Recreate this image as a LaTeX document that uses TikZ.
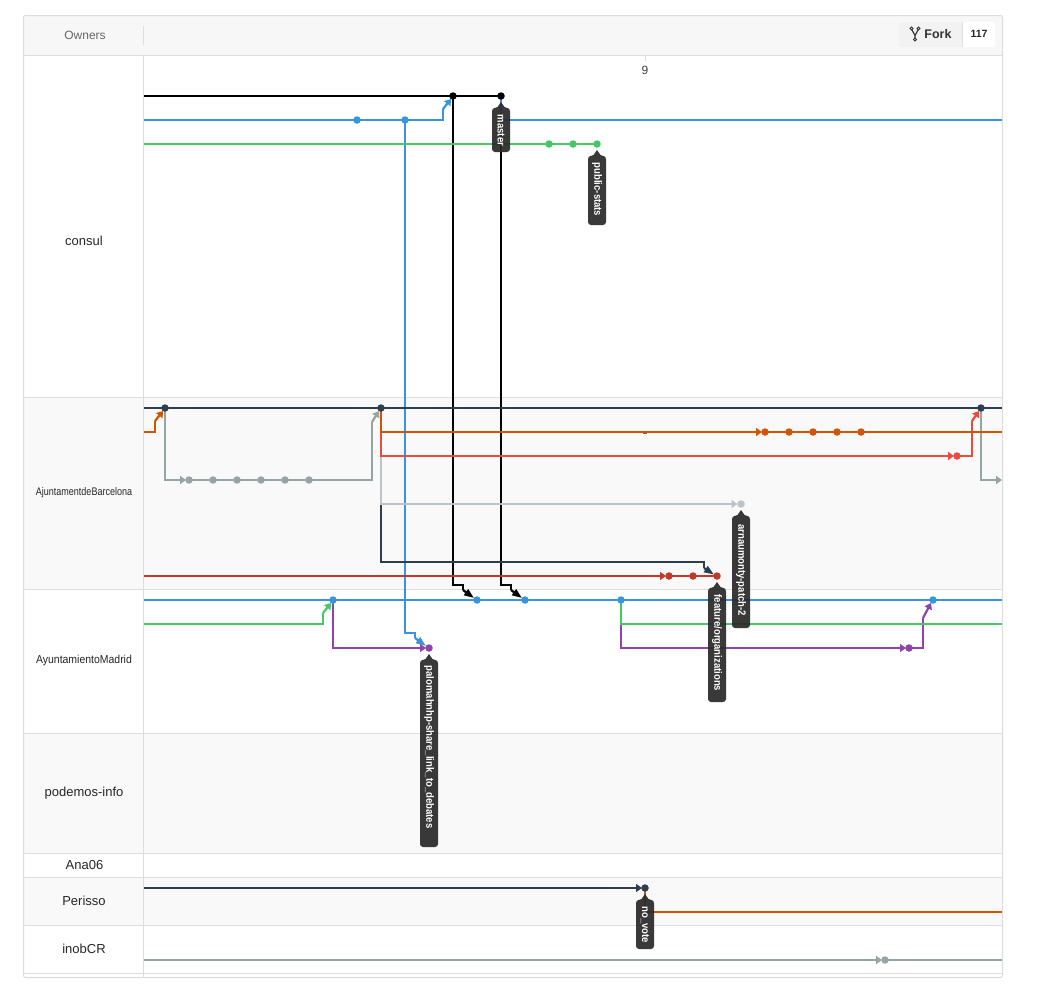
\documentclass[tikz,border=0pt]{standalone}
\usepackage{fontspec}
\usepackage{graphicx}
\setmainfont{Liberation Sans}
\usetikzlibrary{arrows.meta}
\definecolor{cblack}{HTML}{000000}
\definecolor{cblue}{HTML}{3A93DE}
\definecolor{cgreen}{HTML}{45C965}
\definecolor{cnavy}{HTML}{2C3E50}
\definecolor{corange}{HTML}{D35400}
\definecolor{cgray}{HTML}{95A5A6}
\definecolor{cred}{HTML}{E74C3C}
\definecolor{clight}{HTML}{BDC3C7}
\definecolor{cdred}{HTML}{C0392B}
\definecolor{cpurple}{HTML}{8E44AD}
\definecolor{rowline}{HTML}{DDDDDD}
\definecolor{rowfill}{HTML}{F9F9F9}
\definecolor{headfill}{HTML}{F7F7F7}
\definecolor{tagfill}{HTML}{2A2A2A}
\tikzset{
  x=1pt,y=-1pt,
  lane/.style={line width=2.2pt,line join=miter},
  tip/.style={-{Triangle[length=6pt,width=8pt]}},
  tipd/.style={-{Triangle[length=10pt,width=7pt]}},
  dot/.style={circle,fill=#1,inner sep=0pt,minimum size=7.5pt},
  owner/.style={font=\fontsize{13}{15}\selectfont,text=black!85},
  tagtext/.style={font=\fontsize{10.6}{12}\selectfont\bfseries,text=white,rotate=-90},
}
\newcommand{\tagbox}[3]{% x, tip y, bottom y
  \fill[tagfill,opacity=.93] (#1,#2) -- (#1+3.5,#2+5)
    .. controls (#1+5,#2+6.5) and (#1+9,#2+5) .. (#1+9,#2+9.5)
    -- (#1+9,#3-3) arc[start angle=0,end angle=90,x radius=3pt,y radius=-3pt] -- (#1-6,#3)
    arc[start angle=90,end angle=180,x radius=3pt,y radius=-3pt] -- (#1-9,#2+9.5)
    .. controls (#1-9,#2+5) and (#1-5,#2+6.5) .. (#1-3.5,#2+5) -- cycle;
}
\newcommand{\tagword}[1]{\scalebox{.9}[1]{#1}}
\begin{document}
\begin{tikzpicture}
\useasboundingbox (0,0) rectangle (1045,991);
\fill[white] (0,0) rectangle (1045,991);
% rows
\fill[headfill] (24,16) rectangle (1002,55);
\fill[rowfill] (24,398) rectangle (1002,589);
\fill[rowfill] (24,734) rectangle (1002,853);
\fill[rowfill] (24,878) rectangle (1002,925);
\foreach \y in {55.5,397.5,589.5,733.5,853.5,877.5,925.5,973.5}
  \draw[rowline,line width=1pt] (24,\y) -- (1002,\y);
\draw[rowline,line width=1pt] (143.5,56) -- (143.5,977);
\draw[rowline,line width=1pt] (143.5,26) -- (143.5,45);
\draw[rowline,line width=1pt,rounded corners=2pt] (23.5,15.5) rectangle (1002.5,977.5);
\draw[rowline,line width=1pt] (645.5,56) -- (645.5,61);
\draw[black!60,line width=1pt] (643,433.5) -- (647,433.5);
% labels
\node[font=\fontsize{12}{14}\selectfont,text=black!60] (lOwners) at (85,35) {Owners};
\node[owner] (lconsul) at (84,241) {consul};
\node[owner,font=\fontsize{11}{13}\selectfont,xscale=.82] (lbar) at (84,493) {AjuntamentdeBarcelona};
\node[owner,font=\fontsize{11.5}{13}\selectfont,xscale=.91] (lmad) at (84,661) {AyuntamientoMadrid};
\node[owner] (lpod) at (84,793) {podemos-info};
\node[owner] (lana) at (84.5,865.5) {Ana06};
\node[owner] (lper) at (84,901) {Perisso};
\node[owner] (lino) at (84,949) {inobCR};
\node[font=\fontsize{12}{14}\selectfont,text=black!75] (lnine) at (645,70) {9};
% fork button
\fill[black!5,rounded corners=2pt] (899,22) rectangle (963,47);
\fill[white,rounded corners=2pt] (963,22) rectangle (995,47);
\draw[black!12,line width=.8pt] (962.5,22) -- (962.5,47);
\draw[black!80,line width=1.2pt] (912,30) -- (915,35.5) -- (918,30) (915,35.5) -- (915,38);
\foreach \p in {(911.5,28.5),(918.5,28.5),(915,39.5)} \draw[black!80,line width=.9pt] \p circle (1.6pt);
\node[font=\fontsize{12.5}{14}\selectfont\bfseries,text=black!80] (lfork) at (938,34) {Fork};
\node[font=\fontsize{10.5}{12}\selectfont\bfseries,text=black!85] (lcount) at (979,34) {117};
% commits
\foreach \n/\x/\y in {
  k1/453/96,k2/501/96,
  b1/357/120,b2/405/120,
  g1/549/144,g2/573/144,g3/597/144,
  n1/165/408,n2/381/408,n3/981/408,
  a1/189/480,a2/213/480,a3/237/480,a4/261/480,a5/285/480,a6/309/480,
  o1/765/432,o2/789/432,o3/813/432,o4/837/432,o5/861/432,
  r1/957/456,
  l1/741/504,
  d1/669/576,d2/693/576,d3/717/576,
  m1/333/600,m2/477/600,m3/525/600,m4/621/600,m5/933/600,
  p1/429/648,p2/909/648,
  q1/645/888,
  i1/885/960}
  {\coordinate (\n) at (\x,\y);}
% free ends
\foreach \n/\x/\y in {s1/144/96,s2/144/120,s3/144/144,s4/144/408,s5/144/432,s6/144/576,s7/144/600,s8/144/624,s9/144/888,s10/144/960,
  e1/1002/120,e2/1002/408,e3/1002/432,e4/1002/600,e5/1002/624,e6/1002/912,e7/1002/960,e8/1002/480}
  {\coordinate (\n) at (\x,\y);}
% lanes: black and the long blue vertical lie underneath
\begin{scope}[lane]
\draw[cblack] (k1) -- (453,585) -- (463,585) -- (463,590);
\draw[cblack,tipd] (463,590) -- (474,598);
\draw[cblack] (k2) -- (501,585) -- (511,585) -- (511,590);
\draw[cblack,tipd] (511,590) -- (522,598);
\draw[cblue] (b2) -- (405,633) -- (415,633) -- (415,638);
\draw[cblue,tipd] (415,638) -- (426,646);
\draw[cblack] (s1) -- (k2);
\draw[cblue] (s2) -- (443,120) -- (443,109);
\draw[cblue,tip] (443,109) -- (451,99);
\draw[cblue] (k2) -- (501,120) -- (e1);
\draw[cgreen] (s3) -- (g3);
\draw[cgray,tip] (n1) -- (165,480) -- (186,480);
\draw[cgray] (a1) -- (372,480) -- (372,422);
\draw[cgray,tip] (372,422) -- (379,411);
\draw[cgray,tip] (n3) -- (981,480) -- (e8);
\draw[cnavy] (n2) -- (381,562) -- (704,562) -- (704,568);
\draw[cnavy,tipd] (704,568) -- (714,574.5);
\draw[clight,tip] (n2) -- (381,504) -- (737.5,504);
\draw[cdred,tip] (s6) -- (666,576);
\draw[cdred] (d1) -- (d3);
\draw[cred,tip] (n2) -- (381,456) -- (954,456);
\draw[cred] (r1) -- (972,456) -- (972,421);
\draw[cred,tip] (972,421) -- (979,411);
\draw[corange,tip] (n2) -- (381,432) -- (762,432);
\draw[corange] (o1) -- (e3);
\draw[corange] (s5) -- (155,432) -- (155,421);
\draw[corange,tip] (155,421) -- (163,411);
\draw[cnavy] (s4) -- (e2);
\draw[cblue] (s7) -- (e4);
\draw[cgreen] (s8) -- (323,624) -- (323,613);
\draw[cgreen,tip] (323,613) -- (331,603);
\draw[cpurple,tip] (m1) -- (333,648) -- (426,648);
\draw[cpurple,tip] (m4) -- (621,648) -- (906,648);
\draw[cpurple] (p2) -- (923,648) -- (923,618);
\draw[cpurple,tip] (923,618) -- (931,603);
\draw[cgreen] (m4) -- (621,624) -- (e5);
\draw[cnavy,tip] (s9) -- (642,888);
\draw[corange] (q1) -- (645,912) -- (e6);
\draw[cgray,tip] (s10) -- (882,960);
\draw[cgray] (i1) -- (e7);
\end{scope}
% dots
\foreach \n/\c in {k1/cblack,k2/cblack,b1/cblue,b2/cblue,g1/cgreen,g2/cgreen,g3/cgreen,n1/cnavy,n2/cnavy,n3/cnavy,
  a1/cgray,a2/cgray,a3/cgray,a4/cgray,a5/cgray,a6/cgray,o1/corange,o2/corange,o3/corange,o4/corange,o5/corange,
  r1/cred,l1/clight,d1/cdred,d2/cdred,d3/cdred,m1/cblue,m2/cblue,m3/cblue,m4/cblue,m5/cblue,p1/cpurple,p2/cpurple,q1/cnavy,i1/cgray}
  {\node[dot=\c] (dot\n) at (\n) {};}
% tags
\tagbox{501}{102}{152}
\node[tagtext] (tmaster) at (501,130.5) {\tagword{master}};
\tagbox{597}{150}{225}
\node[tagtext] (tpublic) at (597,189.5) {\tagword{public-stats}};
\tagbox{741}{510}{628}
\node[tagtext] (tarn) at (741,570) {\tagword{arnaumonty-patch-2}};
\tagbox{717}{582}{702}
\node[tagtext] (tfeat) at (717,643) {\tagword{feature/organizations}};
\tagbox{429}{654}{847}
\node[tagtext] (tpal) at (429,747) {\tagword{palomahnhp-share\_link\_to\_debates}};
\tagbox{645}{894}{949}
\node[tagtext] (tvote) at (645,925) {\tagword{no\_vote}};
\end{tikzpicture}
\end{document}
